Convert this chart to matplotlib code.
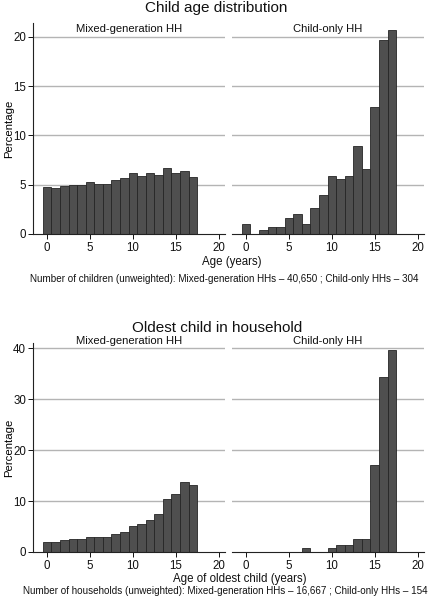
import matplotlib
matplotlib.use("Agg")
import matplotlib.pyplot as plt
import numpy as np

plt.rcParams['font.family'] = ['Liberation Sans', 'DejaVu Sans']

ages = list(range(18))
child_mixed = [4.8, 4.7, 4.9, 5.0, 5.0, 5.3, 5.1, 5.1, 5.5, 5.65, 6.2, 5.9, 6.2, 6.0, 6.7, 6.15, 6.4, 5.75]
child_only = [1.0, 0.0, 0.4, 0.68, 0.68, 1.6, 2.0, 1.0, 2.6, 4.0, 5.9, 5.6, 5.9, 8.9, 6.6, 12.85, 19.7, 20.7]
oldest_mixed = [1.96, 1.96, 2.35, 2.55, 2.55, 2.9, 2.9, 2.9, 3.5, 3.9, 5.1, 5.55, 6.3, 7.5, 10.45, 11.3, 13.65, 13.2]
oldest_only = [0, 0, 0, 0, 0, 0, 0, 0.72, 0, 0, 0.72, 1.3, 1.3, 2.5, 2.5, 17.0, 34.4, 39.7]

panel_titles = ["Mixed-generation HH", "Child-only HH"]
xticks = [0, 5, 10, 15, 20]
top_yticks = [0, 5, 10, 15, 20]
bot_yticks = [0, 10, 20, 30, 40]

W, H = 441, 599
fig = plt.figure(figsize=(W / 100, H / 100), dpi=100)

def px_axes(x0, x1, ytop, ybot):
    return fig.add_axes([x0 / W, 1 - ybot / H, (x1 - x0) / W, (ybot - ytop) / H])

BAR = '#4f4f4f'
EDGE = '#262626'
GRID = '#b4b4b4'
XLIM = (-1.65, 20.75)

def draw(ax, vals, ylim, yticks, left):
    ax.set_xlim(*XLIM)
    ax.set_ylim(*ylim)
    for t in yticks[1:]:
        ax.axhline(t, color=GRID, lw=1.0, zorder=0)
    ax.bar(ages, vals, width=1.0, color=BAR, edgecolor=EDGE, linewidth=0.6, zorder=2)
    for s in ['top', 'right']:
        ax.spines[s].set_visible(False)
    ax.spines['bottom'].set_color('#222222')
    ax.spines['bottom'].set_linewidth(0.8)
    ax.set_xticks(xticks)
    ax.tick_params(axis='x', length=3.5, width=0.7, pad=2, labelsize=8.3, colors='#111111')
    if left:
        ax.spines['left'].set_color('#222222')
        ax.spines['left'].set_linewidth(0.8)
        ax.set_yticks(yticks)
        ax.tick_params(axis='y', length=3.5, width=0.7, pad=1.5, labelsize=8.3, colors='#111111')
        ax.set_ylabel('Percentage', fontsize=8.2)
        ax.yaxis.set_label_coords(-0.098, 0.5)
    else:
        ax.spines['left'].set_visible(False)
        ax.set_yticks([])
    ax.set_facecolor('none')
    return ax

# top row
ax1 = px_axes(33, 225, 23, 234)
draw(ax1, child_mixed, (0, 21.4), top_yticks, True)
ax2 = px_axes(232, 424, 23, 234)
draw(ax2, child_only, (0, 21.4), top_yticks, False)
# bottom row
ax3 = px_axes(33, 225, 343, 552)
draw(ax3, oldest_mixed, (0, 41.0), bot_yticks, True)
ax4 = px_axes(232, 424, 343, 552)
draw(ax4, oldest_only, (0, 41.0), bot_yticks, False)

def ftext(x, y, s, size):
    fig.text(x / W, 1 - y / H, s, ha='center', va='center', fontsize=size, color='#111111')

ftext(216, 8, "Child age distribution", 11.0)
ftext(129, 29, panel_titles[0], 8.1)
ftext(328, 29, panel_titles[1], 8.1)
ftext(232, 262, "Age (years)", 8.3)
ftext(224, 279, "Number of children (unweighted): Mixed-generation HHs \u2013 40,650 ; Child-only HHs \u2013 304", 7.15)

ftext(217, 328, "Oldest child in household", 11.0)
ftext(129, 341, panel_titles[0], 8.1)
ftext(328, 341, panel_titles[1], 8.1)
ftext(240, 579, "Age of oldest child (years)", 8.3)
ftext(225, 591, "Number of households (unweighted): Mixed-generation HHs \u2013 16,667 ; Child-only HHs \u2013 154", 7.15)

fig.savefig('out.png', dpi=100, facecolor='white')
